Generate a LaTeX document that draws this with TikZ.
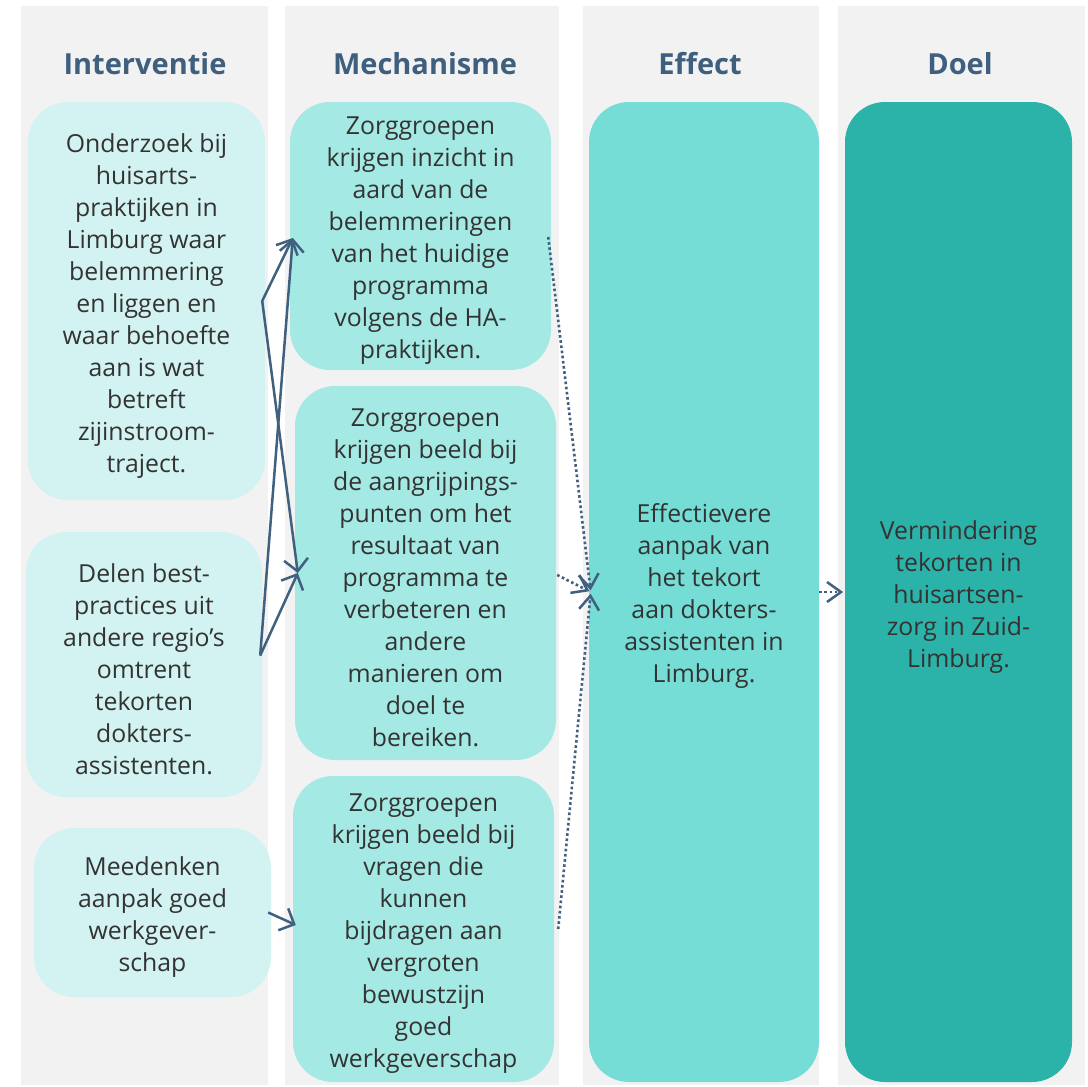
\documentclass[tikz,border=0pt]{standalone}
\usepackage{fontspec}
\setmainfont{Open Sans}
\usetikzlibrary{arrows.meta}
\definecolor{colgrey}{HTML}{F2F2F2}
\definecolor{intc}{HTML}{D2F3F1}
\definecolor{mechc}{HTML}{A4E9E3}
\definecolor{effc}{HTML}{75DDD5}
\definecolor{doelc}{HTML}{2CB3A9}
\definecolor{titlec}{HTML}{3E5F7E}
\definecolor{arrowc}{HTML}{41607F}
\definecolor{textc}{HTML}{333333}
\tikzset{
  column/.style={fill=colgrey, draw=none, inner sep=0pt},
  coltitle/.style={text=titlec, font=\fontsize{29}{34}\selectfont\bfseries},
  box/.style={rounded corners=40pt, draw=none, inner sep=0pt},
  boxtext/.style={inner sep=0pt, align=center, text=textc,
     font=\fontsize{24.8}{32}\selectfont},
  intbox/.style={box, fill=intc},
  mechbox/.style={box, fill=mechc},
  effbox/.style={box, fill=effc},
  doelbox/.style={box, fill=doelc},
  solidarrow/.style={draw=arrowc, line width=2.5pt, line join=round,
     -{Straight Barb[length=12pt,width=24pt,line width=2.5pt]}},
  dotarrow/.style={draw=arrowc, line width=2.6pt, dash pattern=on 2.6pt off 2.6pt,
     -{Straight Barb[length=14pt,width=20pt,line width=2.5pt,sep]}},
}
\begin{document}
\begin{tikzpicture}[x=1pt,y=-1pt]
\useasboundingbox[fill=white] (0,0) rectangle (1088,1087);
% columns
\node[column, minimum width=247pt, minimum height=1079pt] (col1) at (144.5,545.5) {};
\node[column, minimum width=274pt, minimum height=1079pt] (col2) at (421.5,545.5) {};
\node[column, minimum width=236pt, minimum height=1079pt] (col3) at (701,545.5) {};
\node[column, minimum width=247pt, minimum height=1079pt] (col4) at (961.5,545.5) {};
% titles
\node[coltitle] (t1) at (145,64) {Interventie};
\node[coltitle] (t2) at (425,64) {Mechanisme};
\node[coltitle] (t3) at (700,64) {Effect};
\node[coltitle] (t4) at (960,64) {Doel};
% intervention boxes
\node[intbox, minimum width=237pt, minimum height=398pt] (int1) at (146.5,301) {};
\node[intbox, minimum width=236pt, minimum height=265pt] (int2) at (144,664.5) {};
\node[intbox, minimum width=237pt, minimum height=169pt] (int3) at (152.5,912.5) {};
% mechanism boxes
\node[mechbox, minimum width=261pt, minimum height=268pt] (mech1) at (420.5,236) {};
\node[mechbox, minimum width=261pt, minimum height=374pt] (mech2) at (425.5,573) {};
\node[mechbox, minimum width=261pt, minimum height=306pt] (mech3) at (423.5,929) {};
% effect and goal
\node[effbox, minimum width=230pt, minimum height=980pt] (eff) at (704,592) {};
\node[doelbox, minimum width=227pt, minimum height=980pt] (doel) at (958.5,592) {};
% texts
\node[boxtext] (int1t) at ([yshift=-5pt]int1.center) {Onderzoek bij\\huisarts-\\praktijken in\\Limburg waar\\belemmering\\en liggen en\\waar behoefte\\aan is wat\\betreft\\zijinstroom-\\traject.};
\node[boxtext] (int2t) at ([yshift=-5pt]int2.center) {Delen best-\\practices uit\\andere regio’s\\omtrent\\tekorten\\dokters-\\assistenten.};
\node[boxtext] (int3t) at ([yshift=-5pt]int3.center) {Meedenken\\aanpak goed\\werkgever-\\schap};
\node[boxtext] (mech1t) at ([yshift=-5pt]mech1.center) {Zorggroepen\\krijgen inzicht in\\aard van de\\belemmeringen\\van het huidige\\programma\\volgens de HA-\\praktijken.};
\node[boxtext] (mech2t) at ([yshift=-5pt]mech2.center) {Zorggroepen\\krijgen beeld bij\\de aangrijpings-\\punten om het\\resultaat van\\programma te\\verbeteren en\\andere\\manieren om\\doel te\\bereiken.};
\node[boxtext] (mech3t) at ([yshift=-5pt]mech3.center) {Zorggroepen\\krijgen beeld bij\\vragen die\\kunnen\\bijdragen aan\\vergroten\\bewustzijn\\goed\\werkgeverschap};
\node[boxtext] (efft) at ([yshift=-4pt]eff.center) {Effectievere\\aanpak van\\het tekort\\aan dokters-\\assistenten in\\Limburg.};
\node[boxtext] (doelt) at ([yshift=-5pt]doel.center) {Vermindering\\tekorten in\\huisartsen-\\zorg in Zuid-\\Limburg.};
% solid arrows
\draw[solidarrow] ([xshift=-3pt]int1.east) -- ([xshift=3pt,yshift=-2pt]mech1.west);
\draw[solidarrow] ([xshift=-3pt]int1.east) -- ([xshift=3pt]mech2.west);
\draw[solidarrow] ([xshift=-2pt,yshift=9pt]int2.east) -- ([xshift=3pt,yshift=-2pt]mech1.west);
\draw[solidarrow] ([xshift=-2pt,yshift=9pt]int2.east) -- ([xshift=3pt]mech2.west);
\draw[solidarrow] ([xshift=-3pt]int3.east) -- ([xshift=3pt,yshift=4pt]mech3.west);
% dotted arrows
\draw[dotarrow] ([xshift=-3pt,yshift=-1pt]mech1.east) -- ([xshift=2pt]eff.west);
\draw[dotarrow] ([xshift=1pt,yshift=-2pt]mech2.east) -- ([xshift=2pt]eff.west);
\draw[dotarrow] ([xshift=4pt]mech3.east) -- ([xshift=2pt]eff.west);
\draw[dotarrow] (eff.east) -- (doel.west);
\end{tikzpicture}
\end{document}
